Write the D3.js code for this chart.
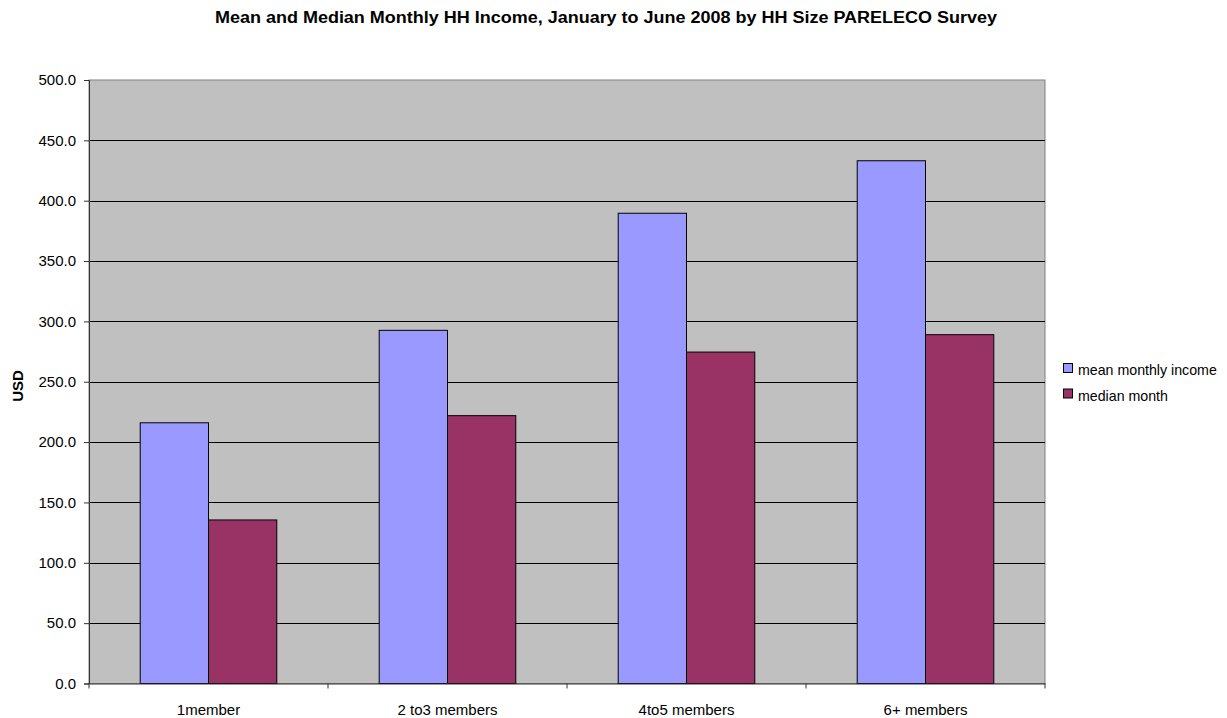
<!DOCTYPE html>
<html lang="en">
<head>
  <meta charset="utf-8">
  <title>Mean and Median Monthly HH Income</title>
  <script src="https://d3js.org/d3.v7.min.js"></script>
  <style>
    body { margin: 0; background: #fff; }
    text { font-family: "Liberation Sans", Arial, sans-serif; fill: #000; }
    .title { font-weight: bold; font-size: 16px; }
  </style>
</head>
<body>
<script>
  // chart data
  const categories = ["1member", "2 to3 members", "4to5 members", "6+ members"];
  const seriesNames = ["mean monthly income", "median month"];
  const meanIncome = [216.0, 292.6, 389.6, 433.1];
  const medianIncome = [135.5, 221.9, 274.6, 289.0];
  const yTicks = [0, 50, 100, 150, 200, 250, 300, 350, 400, 450, 500];
  const colors = ["#9999FF", "#993366"];

  const width = 1227, height = 718;
  const margin = { left: 89, right: 182, top: 80, bottom: 34.5 };

  const svg = d3.select("body").append("svg")
    .attr("width", width)
    .attr("height", height);

  const x = d3.scaleBand()
    .domain(categories)
    .range([margin.left, width - margin.right]);

  const x1 = d3.scaleBand()
    .domain(seriesNames)
    .range([0, x.bandwidth()])
    .paddingOuter(0.75)
    .paddingInner(0);

  const y = d3.scaleLinear()
    .domain([0, 500])
    .range([height - margin.bottom, margin.top]);

  // plot area background
  svg.append("rect")
    .attr("x", margin.left)
    .attr("y", margin.top)
    .attr("width", width - margin.right - margin.left)
    .attr("height", height - margin.bottom - margin.top)
    .attr("fill", "#C0C0C0")
    .attr("stroke", "#808080")
    .attr("stroke-width", 1);

  // gridlines
  svg.append("g")
    .selectAll("line")
    .data(yTicks.filter(d => d > 0 && d < 500))
    .enter().append("line")
    .attr("x1", margin.left)
    .attr("x2", width - margin.right)
    .attr("y1", d => Math.round(y(d)) + 0.5)
    .attr("y2", d => Math.round(y(d)) + 0.5)
    .attr("stroke", "#000")
    .attr("stroke-width", 1);

  const rows = categories.map((c, i) => ({ cat: c, values: [meanIncome[i], medianIncome[i]] }));

  // bars
  svg.append("g")
    .selectAll("g")
    .data(rows)
    .enter().append("g")
    .attr("transform", d => "translate(" + x(d.cat) + ",0)")
    .selectAll("rect")
    .data(d => d.values.map((v, j) => ({ name: seriesNames[j], value: v, j: j })))
    .enter().append("rect")
    .attr("x", d => x1(d.name))
    .attr("width", x1.bandwidth())
    .attr("y", d => y(d.value))
    .attr("height", d => y(0) - y(d.value))
    .attr("fill", d => colors[d.j])
    .attr("stroke", "#000")
    .attr("stroke-width", 1);

  // y axis
  const yAxis = svg.append("g")
    .attr("transform", "translate(" + margin.left + ",0)")
    .call(d3.axisLeft(y).tickValues(yTicks).tickFormat(d3.format(".1f")).tickSize(5).tickPadding(8));
  yAxis.select(".domain").attr("stroke", "#333");
  yAxis.selectAll(".tick line").attr("stroke", "#333");
  yAxis.selectAll("text").style("font-size", "15px");

  // x axis
  const xAxis = svg.append("g")
    .attr("transform", "translate(0," + (height - margin.bottom) + ")")
    .call(d3.axisBottom(x).tickSize(0).tickPadding(21));
  xAxis.select(".domain").attr("stroke", "#333");
  xAxis.selectAll("text").style("font-size", "15px");
  xAxis.selectAll(".bound")
    .data(categories.concat(["end"]))
    .enter().append("line")
    .attr("x1", (d, i) => i < categories.length ? x(d) : x.range()[1])
    .attr("x2", (d, i) => i < categories.length ? x(d) : x.range()[1])
    .attr("y1", 0)
    .attr("y2", 5)
    .attr("stroke", "#333");

  // y axis title
  svg.append("text")
    .attr("transform", "translate(23,386) rotate(-90)")
    .attr("text-anchor", "middle")
    .style("font-size", "15px")
    .style("font-weight", "bold")
    .text("USD");

  // chart title
  svg.append("text")
    .attr("class", "title")
    .attr("x", 606)
    .attr("y", 23)
    .attr("text-anchor", "middle")
    .attr("textLength", 782)
    .attr("lengthAdjust", "spacingAndGlyphs")
    .text("Mean and Median Monthly HH Income, January to June 2008 by HH Size PARELECO Survey");

  // legend
  const legend = svg.append("g")
    .attr("transform", "translate(1063,363)");
  const item = legend.selectAll("g")
    .data(seriesNames)
    .enter().append("g")
    .attr("transform", (d, i) => "translate(0," + i * 25.5 + ")");
  item.append("rect")
    .attr("x", 0.5).attr("y", 0.5)
    .attr("width", 9).attr("height", 9)
    .attr("fill", (d, i) => colors[i])
    .attr("stroke", "#000");
  item.append("text")
    .attr("x", 15)
    .attr("y", 12)
    .style("font-size", "14.2px")
    .text(d => d);
</script>
</body>
</html>
